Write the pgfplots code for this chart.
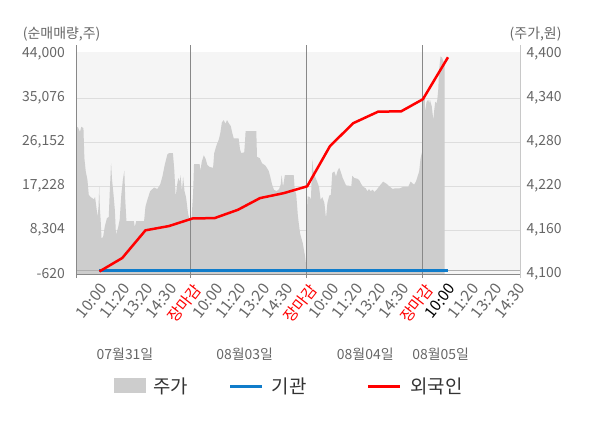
\documentclass[border=0pt]{standalone}
\usepackage{pgfplots}
\pgfplotsset{compat=1.18}
\usepackage{pgfplotstable}
\usepackage{fontspec}
\setmainfont{Noto Sans CJK KR}
\definecolor{bgc}{RGB}{245,245,245}
\definecolor{gridc}{RGB}{221,221,221}
\definecolor{areac}{RGB}{205,205,205}
\definecolor{sepc}{RGB}{136,136,136}
\definecolor{zeroc}{RGB}{175,175,175}
\definecolor{rightc}{RGB}{200,200,200}
\definecolor{txtc}{RGB}{102,102,102}
\definecolor{legc}{RGB}{51,51,51}
\definecolor{bluec}{RGB}{16,124,202}
\definecolor{redc}{RGB}{255,0,0}

\pgfplotstableread{
u p
0.08 4100
0.08 4235
0.11 4301
0.17 4300
0.25 4294
0.31 4301
0.40 4299
0.44 4258
0.50 4240
0.57 4229
0.63 4208
0.71 4205
0.85 4202
0.90 4205
0.97 4188
1.01 4178
1.05 4192
1.08 4219
1.11 4188
1.14 4174
1.18 4148
1.25 4151
1.32 4165
1.41 4176
1.49 4178
1.53 4210
1.59 4251
1.63 4229
1.69 4210
1.75 4188
1.80 4154
1.89 4163
1.96 4174
2.03 4208
2.10 4229
2.16 4241
2.20 4201
2.25 4172
2.57 4172
2.61 4164
2.67 4172
3.01 4172
3.07 4192
3.15 4201
3.27 4213
3.44 4218
3.58 4216
3.70 4222
3.80 4233
3.90 4249
4.01 4263
4.08 4265
4.25 4265
4.31 4242
4.37 4205
4.42 4219
4.48 4231
4.55 4226
4.58 4235
4.64 4213
4.69 4233
4.75 4213
4.82 4204
4.90 4183
4.98 4172
5.05 4174
5.12 4210
5.16 4250
5.40 4250
5.43 4241
5.50 4254
5.58 4262
5.66 4257
5.73 4249
5.83 4246
5.98 4245
6.03 4265
6.12 4275
6.22 4283
6.29 4292
6.36 4307
6.44 4310
6.51 4305
6.58 4310
6.67 4305
6.74 4302
6.81 4292
6.87 4285
7.08 4285
7.14 4270
7.19 4265
7.32 4266
7.35 4279
7.38 4295
7.84 4295
7.87 4260
7.99 4258
8.09 4251
8.23 4248
8.37 4241
8.44 4233
8.52 4222
8.60 4215
8.72 4213
8.82 4216
8.89 4222
8.93 4235
8.99 4219
9.07 4235
9.45 4235
9.49 4217
9.56 4208
9.63 4179
9.72 4156
9.84 4142
9.94 4124
9.98 4113
10.01 4181
10.05 4206
10.15 4205
10.19 4200
10.25 4256
10.29 4242
10.37 4233
10.46 4226
10.54 4219
10.61 4201
10.68 4205
10.77 4197
10.84 4176
10.90 4197
10.98 4207
11.05 4208
11.11 4238
11.20 4240
11.27 4233
11.34 4241
11.41 4245
11.48 4239
11.56 4231
11.63 4226
11.70 4221
11.93 4220
11.97 4234
12.06 4231
12.19 4230
12.27 4228
12.35 4223
12.44 4219
12.55 4217
12.62 4213
12.69 4216
12.76 4213
12.85 4215
12.92 4212
13.02 4215
13.12 4219
13.19 4222
13.30 4226
13.45 4223
13.59 4219
13.71 4216
13.81 4217
14.02 4217
14.17 4219
14.38 4219
14.48 4226
14.63 4222
14.71 4226
14.78 4233
14.85 4240
14.91 4258
14.98 4267
15.00 4340
15.09 4340
15.10 4322
15.17 4335
15.24 4338
15.28 4333
15.31 4338
15.39 4329
15.46 4310
15.50 4324
15.54 4335
15.60 4333
15.63 4338
15.67 4351
15.71 4379
15.77 4397
15.84 4395
15.89 4390
15.95 4389
15.95 4100
}\pricetab

\pgfplotstableread{
u v
1.09 -100
2.07 2626
3.07 8250
4.08 9115
5.09 10650
6.05 10738
7.05 12421
8.00 14794
9.03 15808
10.03 17187
11.01 25339
12.01 30003
13.09 32356
14.07 32400
15.01 34871
16.09 43388
}\fortab

\pgfplotstableread{
u v
1.08 0
2.07 0
3.07 0
4.08 0
5.09 0
6.05 0
7.05 0
8.00 0
9.03 0
10.03 0
11.01 0
12.01 0
13.09 0
14.07 0
15.01 0
16.07 0
}\insttab

\begin{document}
\begin{tikzpicture}[x=1bp,y=1bp]
\path[use as bounding box] (0,0) rectangle (600,428);
\begin{axis}[
  at={(76bp,154bp)}, anchor=south west,
  scale only axis, width=444bp, height=222bp,
  xmin=0.08, xmax=19.19, ymin=4100, ymax=4403,
  scaled y ticks=false,
  axis line style={draw=none},
  axis background/.style={fill=bgc},
  xtick=\empty,
  axis y line*=right,
  ytick={4160,4220,4280,4340},
  yticklabels={{4,160},{4,220},{4,280},{4,340}},
  extra y ticks={4100,4400},
  extra y tick labels={{4,100},{4,400}},
  extra y tick style={grid=none},
  ymajorgrids, grid style={gridc, line width=1bp},
  major tick length=0pt,
  yticklabel style={font=\fontsize{14}{16}\selectfont, text=txtc, anchor=west, inner sep=0pt, xshift=6.5bp},
]
\addplot[fill=areac, draw=none] table[x=u,y=p] {\pricetab} \closedcycle;
\end{axis}
\begin{axis}[
  at={(76bp,154bp)}, anchor=south west,
  scale only axis, width=444bp, height=222bp,
  xmin=0.08, xmax=19.19, ymin=-620, ymax=44460,
  scaled y ticks=false,
  axis line style={draw=none},
  clip=false,
  major tick length=0pt,
  ytick={-620,8304,17228,26152,35076,44000},
  yticklabels={-620,{8,304},{17,228},{26,152},{35,076},{44,000}},
  yticklabel style={font=\fontsize{14}{16}\selectfont, text=txtc, anchor=east, inner sep=0pt, xshift=-11bp},
  xtick={1,...,19},
  xticklabels={10:00,11:20,13:20,14:30,\textcolor{redc}{장마감},10:00,11:20,13:20,14:30,\textcolor{redc}{장마감},10:00,11:20,13:20,14:30,\textcolor{redc}{장마감},\textcolor{black}{10:00},11:20,13:20,14:30},
  xticklabel style={font=\fontsize{15.5}{17}\selectfont, text=txtc, inner sep=0pt, xshift=1.5bp, yshift=-8bp, rotate=52, anchor=north east},
]
\draw[zeroc, line width=1bp] (axis cs:0.08,0) -- (axis cs:19.19,0);
\draw[sepc, line width=1bp] (axis cs:0.08,-620) -- (axis cs:19.19,-620);
\draw[sepc, line width=1bp] ([yshift=-4bp]axis cs:0.08,-620) -- ([yshift=7bp]axis cs:0.08,44460);
\draw[sepc, line width=1bp] ([yshift=-4bp]axis cs:5,-620) -- ([yshift=7bp]axis cs:5,44460);
\draw[sepc, line width=1bp] ([yshift=-4bp]axis cs:10,-620) -- ([yshift=7bp]axis cs:10,44460);
\draw[sepc, line width=1bp] ([yshift=-4bp]axis cs:15,-620) -- ([yshift=7bp]axis cs:15,44460);
\draw[rightc, line width=1bp] ([yshift=-4bp]axis cs:19.19,-620) -- ([yshift=7bp]axis cs:19.19,44460);
\addplot[bluec, line width=3bp] table[x=u,y=v] {\insttab};
\addplot[redc, line width=2.5bp] table[x=u,y=v] {\fortab};
\end{axis}
\node[anchor=west, text=txtc, font=\fontsize{14}{16}\selectfont, inner sep=0pt] at (22.7,394) {(순매매량,주)};
\node[anchor=east, text=txtc, font=\fontsize{14}{16}\selectfont, inner sep=0pt] at (561.7,394) {(주가,원)};
\node[text=txtc, font=\fontsize{14}{16}\selectfont, inner sep=0pt] at (125,74) {07월31일};
\node[text=txtc, font=\fontsize{14}{16}\selectfont, inner sep=0pt] at (244.7,74) {08월03일};
\node[text=txtc, font=\fontsize{14}{16}\selectfont, inner sep=0pt] at (365.3,74) {08월04일};
\node[text=txtc, font=\fontsize{14}{16}\selectfont, inner sep=0pt] at (440.7,74) {08월05일};
\fill[areac] (114.3,35.3) rectangle (146,49.7);
\node[anchor=west, text=legc, font=\fontsize{19}{21}\selectfont, inner sep=0pt] at (153.3,42) {주가};
\draw[bluec, line width=3bp] (230,42) -- (261.7,42);
\node[anchor=west, text=legc, font=\fontsize{19}{21}\selectfont, inner sep=0pt] at (271.7,42) {기관};
\draw[redc, line width=3bp] (368.3,42) -- (400,42);
\node[anchor=west, text=legc, font=\fontsize{19}{21}\selectfont, inner sep=0pt] at (410,42) {외국인};
\end{tikzpicture}
\end{document}
